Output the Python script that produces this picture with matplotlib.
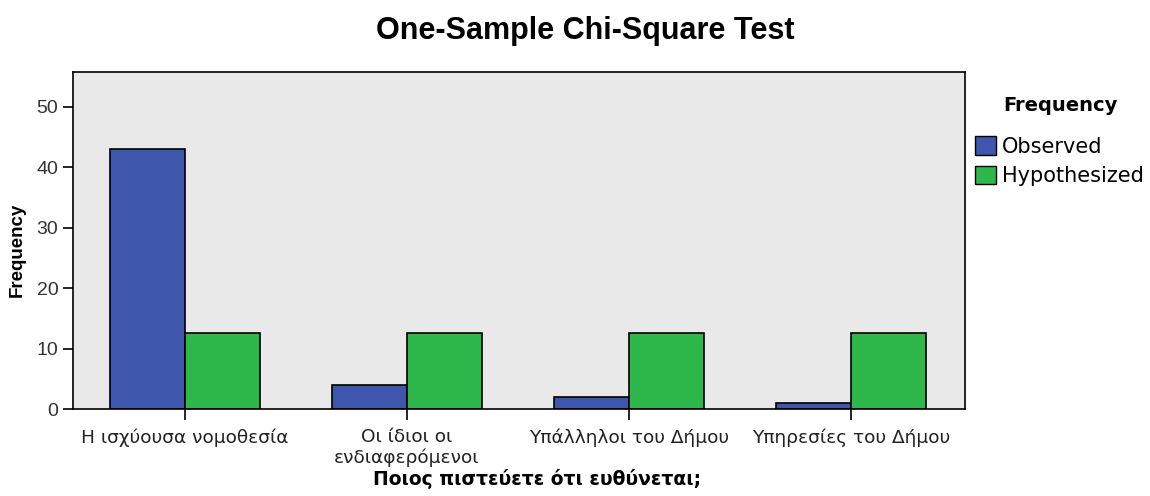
import numpy as np
import matplotlib.pyplot as plt
from matplotlib.patches import Patch

categories = ['Η ισχύουσα νομοθεσία', 'Οι ίδιοι οι\nενδιαφερόμενοι',
              'Υπάλληλοι του Δήμου', 'Υπηρεσίες του Δήμου']
observed = [43, 4, 2, 1]
hypothesized = [12.5, 12.5, 12.5, 12.5]

plt.rcParams['font.family'] = ['Liberation Sans', 'DejaVu Sans']

blue = '#3e56ab'
green = '#2eb84c'

fig = plt.figure(figsize=(11.5, 4.96), dpi=100)
ax = fig.add_axes([0.0635, 0.1754, 0.7755, 0.6796])
ax.set_facecolor('#e9e9e9')

x = np.arange(len(categories))
w = 0.338
ax.bar(x - w / 2, observed, width=w, color=blue, edgecolor='black', linewidth=1.2)
ax.bar(x + w / 2, hypothesized, width=w, color=green, edgecolor='black', linewidth=1.2)

ax.set_xlim(-0.505, 3.514)
ax.set_ylim(0, 55.8)
ax.set_yticks([0, 10, 20, 30, 40, 50])
ax.set_xticks(x)
ax.set_xticklabels(categories, fontsize=13.3, color='#222222', family='DejaVu Sans',
                   linespacing=1.15)
ax.tick_params(axis='y', labelsize=14, length=7, width=1.2, colors='black', labelcolor='#333333')
ax.tick_params(axis='x', length=8, width=1.2, pad=6)
for s in ax.spines.values():
    s.set_linewidth(1.2)

ax.set_ylabel('Frequency', fontsize=13.5, fontweight='bold')
ax.yaxis.set_label_coords(-0.053, 0.472)
ax.set_xlabel('Ποιος πιστεύετε ότι ευθύνεται;', fontsize=13.5, fontweight='bold',
              family='DejaVu Sans')
ax.xaxis.set_label_coords(0.52, -0.178)
fig.suptitle('One-Sample Chi-Square Test', fontsize=22, fontweight='bold', y=0.967, x=0.509)

fig.text(0.922, 0.788, 'Frequency', ha='center', va='center', family='DejaVu Sans',
         fontweight='bold', fontsize=14)
handles = [Patch(facecolor=blue, edgecolor='black'), Patch(facecolor=green, edgecolor='black')]
leg = fig.legend(handles, ['Observed', 'Hypothesized'],
                 loc='upper left', bbox_to_anchor=(0.848, 0.725), frameon=False,
                 prop={'family': 'DejaVu Sans', 'size': 15}, borderpad=0, borderaxespad=0,
                 handlelength=1.0, handleheight=1.0, handletextpad=0.3, labelspacing=0.43)

fig.savefig('out.png', dpi=100)
